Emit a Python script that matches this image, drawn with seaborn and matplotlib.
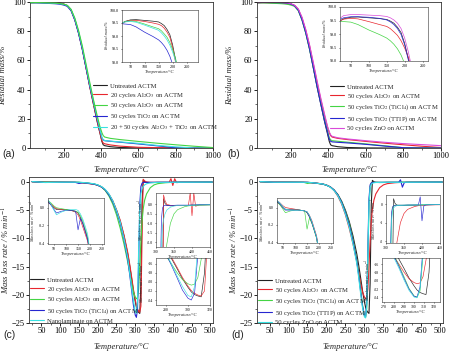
import numpy as np
import pandas as pd
import matplotlib
matplotlib.use('Agg')
import matplotlib.pyplot as plt
import seaborn as sns
from matplotlib.ticker import MultipleLocator, FormatStrFormatter, FixedLocator

sns.set_theme(style='ticks')
plt.rcParams['font.family'] = ['Liberation Serif', 'DejaVu Serif']
plt.rcParams['mathtext.fontset'] = 'stix'

# ---------------- TGA data (residual mass, %) ----------------
T_tga = [22, 30, 50, 70, 100, 130, 150, 160, 170, 180, 190, 200, 210, 220, 240, 260, 280, 300,
         320, 340, 360, 380, 395, 405, 412, 420, 450, 500, 600, 700, 800, 900, 1000]
tga_untreated = [99.50, 99.56, 99.62, 99.63, 99.60, 99.57, 99.54, 99.48, 99.40, 99.25, 99.05, 98.65, 98.10, 97.40,
                 94.5, 88.0, 79.0, 68.0, 55.0, 42.0, 30.0, 18.0, 10.0, 4.5, 2.2, 1.6, 0.9, 0.35, 0.05, 0.0, 0.0, 0.0, 0.0]
tga_al20 = [99.48, 99.54, 99.60, 99.60, 99.56, 99.50, 99.45, 99.40, 99.30, 99.15, 98.95, 98.55, 98.00, 97.30,
            94.4, 87.9, 78.9, 67.9, 55.0, 42.0, 30.0, 18.2, 10.3, 5.0, 3.4, 2.9, 2.1, 1.3, 0.5, 0.2, 0.1, 0.05, 0.0]
tga_al50 = [99.50, 99.55, 99.58, 99.56, 99.46, 99.35, 99.28, 99.20, 99.08, 98.95, 98.75, 98.48, 98.15, 97.70,
            95.0, 89.0, 80.5, 70.0, 57.5, 45.0, 33.0, 22.0, 14.5, 10.5, 8.5, 7.5, 6.6, 5.8, 4.5, 3.3, 2.2, 1.2, 0.3]
tga_ticl4 = [99.47, 99.46, 99.44, 99.35, 99.15, 98.98, 98.85, 98.75, 98.62, 98.45, 98.22, 97.90, 97.50, 97.00,
             94.0, 87.5, 78.5, 67.5, 55.0, 42.5, 31.0, 19.5, 12.0, 7.0, 5.6, 5.0, 4.6, 4.0, 2.8, 1.5, 0.2, 0.0, 0.0]
tga_nano = [99.50, 99.54, 99.56, 99.53, 99.42, 99.30, 99.22, 99.12, 99.00, 98.85, 98.65, 98.38, 98.05, 97.60,
            94.8, 88.5, 79.8, 69.0, 56.5, 43.5, 32.0, 20.5, 12.5, 7.0, 5.6, 5.1, 4.7, 4.2, 3.2, 1.8, 0.8, 0.0, 0.0]
tga_ttip = [99.55, 99.60, 99.64, 99.64, 99.62, 99.58, 99.52, 99.45, 99.35, 99.20, 98.98, 98.60, 98.05, 97.35,
            94.4, 87.8, 78.8, 67.8, 55.0, 42.0, 30.0, 18.5, 11.0, 6.0, 4.6, 4.2, 3.9, 3.5, 2.5, 1.3, 0.2, 0.0, 0.0]
tga_zno = [99.60, 99.68, 99.72, 99.72, 99.70, 99.68, 99.65, 99.60, 99.52, 99.40, 99.20, 98.85, 98.35, 97.75,
           95.2, 89.5, 81.0, 70.5, 58.5, 46.0, 34.0, 23.0, 15.0, 11.0, 9.0, 8.0, 7.0, 6.2, 5.0, 3.9, 3.0, 2.3, 1.6]

# ---------------- DTG data (mass loss rate, %/min) ----------------
T_dtg = [25, 35, 50, 60, 80, 100, 120, 140, 150, 160, 170, 180, 190, 200, 210, 220, 230, 240, 250, 260,
         270, 280, 285, 290, 295, 300, 303, 306, 309, 312, 315, 318, 321, 325, 330, 340, 350, 360, 380, 390,
         395, 400, 405, 410, 420, 450, 480, 505]
dtg_untreated = [0.06, 0.04, 0.00, -0.02, -0.02, -0.02, -0.03, -0.04, -0.06, -0.11, -0.18, -0.26, -0.35, -0.55,
                 -0.85, -1.4, -2.2, -3.4, -5.0, -7.0, -9.6, -12.8, -14.8, -17.0, -19.3, -21.2, -22.2, -22.8, -23.1,
                 -23.3, -18.0, -4.0, 0.3, 0.05, -0.05, -0.08, -0.07, -0.06, -0.05, -0.05, -0.04, -0.04, -0.04,
                 -0.03, -0.03, -0.02, -0.01, 0.0]
dtg_al20 = [0.07, 0.05, 0.01, -0.01, -0.02, -0.03, -0.03, -0.05, -0.08, -0.14, -0.22, -0.30, -0.38, -0.57,
            -0.87, -1.4, -2.2, -3.3, -4.9, -6.8, -9.4, -12.5, -14.5, -16.7, -19.0, -20.9, -21.9, -22.5, -22.9,
            -23.1, -22.0, -10.0, 0.5, 0.2, 0.0, -0.05, -0.06, -0.05, -0.05, -0.05, 0.6, -0.6, 0.6, -0.1, -0.03,
            -0.02, -0.01, 0.0]
dtg_al50 = [0.08, 0.06, 0.02, 0.00, -0.01, -0.02, -0.03, -0.04, -0.05, -0.09, -0.15, -0.24, -0.33, -0.52,
            -0.85, -1.5, -2.5, -3.9, -5.8, -8.2, -11.0, -14.2, -16.0, -17.9, -19.5, -20.4, -20.7, -20.5, -19.0,
            -15.0, -10.5, -7.0, -4.8, -3.2, -2.1, -1.0, -0.5, -0.28, -0.12, -0.08, -0.07, -0.06, -0.06, -0.05,
            -0.04, -0.03, -0.02, -0.01]
dtg_ticl4 = [0.07, 0.04, -0.02, -0.06, -0.04, -0.03, -0.03, -0.04, -0.25, -0.12, -0.18, -0.27, -0.36, -0.55,
             -0.87, -1.4, -2.3, -3.5, -5.2, -7.3, -10.2, -13.8, -16.3, -19.0, -21.8, -23.6, -24.0, -22.5, -14.0,
             -4.0, -0.8, -0.2, -0.08, -0.05, -0.05, -0.05, -0.05, -0.04, -0.04, -0.04, -0.04, -0.03, -0.03,
             -0.03, -0.02, -0.02, -0.01, 0.0]
dtg_nano = [0.09, 0.05, -0.03, -0.08, -0.05, -0.03, -0.02, -0.02, -0.03, -0.07, -0.13, -0.21, -0.30, -0.50,
            -0.80, -1.3, -2.1, -3.3, -5.0, -7.1, -10.0, -13.5, -16.0, -18.6, -21.0, -23.0, -23.3, -21.0, -12.0,
            -5.0, -2.0, -1.2, -0.8, -0.5, -0.3, -0.15, -0.09, -0.06, -0.05, -0.05, -0.05, -0.04, -0.04, -0.03,
            -0.03, -0.02, -0.01, 0.0]
dtg_ttip = [0.07, 0.05, 0.00, -0.03, -0.03, -0.03, -0.03, -0.04, -0.05, -0.10, -0.17, -0.26, -0.35, -0.55,
            -0.87, -1.4, -2.3, -3.6, -5.4, -7.6, -10.5, -14.1, -16.6, -19.4, -22.0, -23.7, -23.9, -21.5, -12.0,
            -3.0, -0.5, -0.15, -0.08, -0.06, -0.05, -0.05, -0.05, -0.04, -0.04, -0.04, 0.4, -0.9, -0.1, -0.04,
            -0.03, -0.02, -0.01, 0.0]
dtg_zno = [0.08, 0.06, 0.01, -0.02, -0.03, -0.03, -0.03, -0.04, -0.05, -0.09, -0.16, -0.25, -0.34, -0.54,
           -0.90, -1.5, -2.4, -3.8, -5.7, -8.0, -11.0, -14.5, -17.0, -19.8, -22.3, -23.9, -24.1, -22.0, -13.0,
           -4.0, -1.0, -0.4, -0.2, -0.12, -0.08, -0.06, -0.05, -0.05, -0.04, -0.04, -0.04, -0.04, -0.03, -0.03,
           -0.03, -0.02, -0.01, 0.0]

# ---------------- tick values ----------------
tga_yticks = [0, 20, 40, 60, 80, 100]
tga_xticks = [200, 400, 600, 800, 1000]
dtg_yticks = [-25, -20, -15, -10, -5, 0]
dtg_xticks = [50, 100, 150, 200, 250, 300, 350, 400, 450, 500]

# ---------------- labels ----------------
labels_a = ['Untreated ACTM', '20 cycles Al$_2$O$_3$ on ACTM', '50 cycles Al$_2$O$_3$ on ACTM',
            '50 cycles TiO$_2$ on ACTM', '20 + 50 cycles Al$_2$O$_3$ + TiO$_2$ on ACTM']
labels_b = ['Untreated ACTM', '50 cycles Al$_2$O$_3$ on ACTM', '50 cycles TiO$_2$ (TiCl$_4$) on ACTM',
            '50 cycles TiO$_2$ (TTIP) on ACTM', '50 cycles ZnO on ACTM']
labels_c = ['Untreated ACTM', '20 cycles Al$_2$O$_3$ on ACTM', '50 cycles Al$_2$O$_3$ on ACTM',
            '50 cycles TiO$_2$ (TiCl$_4$) on ACTM', 'Nanolaminate on ACTM']
labels_d = labels_b

BLACK, RED, GREEN, BLUE, CYAN, MAG = '#222222', '#e8262e', '#44d444', '#2626d0', '#38e2e2', '#d94ad9'
colors_a = [BLACK, RED, GREEN, BLUE, CYAN]
colors_b = [BLACK, RED, GREEN, BLUE, MAG]
colors_c = [BLACK, RED, GREEN, BLUE, CYAN]
colors_d = [BLACK, RED, GREEN, BLUE, CYAN]

series_a = [tga_untreated, tga_al20, tga_al50, tga_ticl4, tga_nano]
series_b = [tga_untreated, tga_al50, tga_ticl4, tga_ttip, tga_zno]
series_c = [dtg_untreated, dtg_al20, dtg_al50, dtg_ticl4, dtg_nano]
series_d = [dtg_untreated, dtg_al50, dtg_ticl4, dtg_ttip, dtg_zno]

W, H = 449, 353
fig = plt.figure(figsize=(W / 100, H / 100), dpi=100)


def rect(x0, y0, x1, y1):
    return [x0 / W, 1 - y1 / H, (x1 - x0) / W, (y1 - y0) / H]


def style(ax, fs, lw=0.6, tl=2.0):
    for s in ax.spines.values():
        s.set_linewidth(lw)
        s.set_color('#333333')
    ax.tick_params(which='major', direction='out', length=tl, width=lw, pad=1.2,
                   labelsize=fs, colors='#000000', labelleft=True)
    ax.tick_params(which='minor', direction='out', length=tl * 0.6, width=lw * 0.8)
    ax.grid(False)


def draw(ax, T, series, colors, lw, zorders=None):
    handles = []
    for i, (y, c) in enumerate(zip(series, colors)):
        df = pd.DataFrame({'T': T, 'v': y})
        sns.lineplot(data=df, x='T', y='v', ax=ax, color=c, lw=lw, legend=False,
                     estimator=None, sort=False, zorder=(zorders[i] if zorders else 2 + i * 0.1))
        handles.append(ax.get_lines()[-1])
    ax.set_xlabel('')
    ax.set_ylabel('')
    return handles


def legend(ax, handles, labels, x, y):
    ax.legend(handles, labels, loc='upper left', bbox_to_anchor=(x / W, 1 - y / H),
              bbox_transform=fig.transFigure, frameon=False, fontsize=4.8,
              handlelength=2.1, handletextpad=0.45, labelspacing=0.28, borderpad=0, borderaxespad=0)


def main_labels(ax, ylab, ylx, xly):
    ax.set_xlabel('Temperature/°C', fontsize=6.2, style='italic')
    ax.set_ylabel(ylab, fontsize=6.2, style='italic')
    ax.xaxis.set_label_coords(0.5, xly)
    ax.xaxis.label.set_verticalalignment('center')
    ax.yaxis.set_label_coords(ylx, 0.5)
    ax.yaxis.label.set_verticalalignment('center')


def set_main_ticks(ax, xt, yt):
    ax.set_xticks(xt)
    ax.set_xticklabels([str(v) for v in xt])
    ax.set_yticks(yt)
    ax.set_yticklabels([str(v).replace('-', '\u2212') for v in yt])


def inset_labels(ax, ylab):
    ax.set_xlabel('Temperature/°C', fontsize=3.3, style='italic', labelpad=0.8)
    ax.set_ylabel(ylab, fontsize=3.0, style='italic', labelpad=0.8)


TGA_Y = 'Residual mass/%'
DTG_Y = 'Mass loss rate / % min$^{-1}$'

# ---------------- Panels (a), (b) ----------------
for (r, series, colors, labels, leg, irect, ixmax, letter, lpos, zord) in [
        (rect(30, 2, 213, 148), series_a, colors_a, labels_a, (93, 83), rect(122, 10, 198, 62), 290, '(a)',
         (9, 154), [2, 2.1, 2.6, 2.2, 2.3]),
        (rect(257, 2, 441, 148), series_b, colors_b, labels_b, (330, 84), rect(340, 7, 428, 61), 265, '(b)',
         (234, 154), None)]:
    ax = fig.add_axes(r)
    h = draw(ax, T_tga, series, colors, 0.8, zorders=zord)
    ax.set_xlim(20, 1000)
    ax.set_ylim(0, 100)
    set_main_ticks(ax, tga_xticks, tga_yticks)
    ax.xaxis.set_minor_locator(MultipleLocator(100))
    ax.yaxis.set_minor_locator(MultipleLocator(10))
    style(ax, 6.0)
    main_labels(ax, TGA_Y, -0.145, -0.15)
    legend(ax, h, labels, *leg)
    fig.text(lpos[0] / W, 1 - lpos[1] / H, letter, fontsize=7.5, family='Liberation Sans',
             ha='center', va='center')
    ia = fig.add_axes(irect)
    ia.set_facecolor('white')
    draw(ia, T_tga, series, colors, 0.5)
    ia.set_xlim(20, ixmax)
    ia.set_ylim(98.0, 100.0)
    ia.xaxis.set_major_locator(FixedLocator([50, 100, 150, 200, 250]))
    ia.yaxis.set_major_locator(MultipleLocator(0.5))
    ia.yaxis.set_major_formatter(FormatStrFormatter('%.1f'))
    style(ia, 3.0, lw=0.4, tl=1.0)
    inset_labels(ia, TGA_Y)

# ---------------- Panels (c), (d) ----------------
for (r, series, colors, labels, leg, letter, lpos, ins) in [
        (rect(29, 177, 213, 323), series_c, colors_c, labels_c, (30, 277), '(c)', (9, 335),
         [(rect(48, 198, 104, 244), (25, 258), (-0.41, 0.11), [50, 100, 150, 200, 250], [0.0, -0.2, -0.4], '%.1f'),
          (rect(156, 193, 210, 247), (300, 450), (-2.25, 0.6), [300, 350, 400, 450],
           [0.0, -0.5, -1.0, -1.5, -2.0], '%.1f'),
          (rect(156, 258, 210, 305), (271, 320), (-25.1, -14.7), [280, 300, 320], [-16, -18, -20, -22, -24], '%d')]),
        (rect(257, 177, 443, 323), series_d, colors_d, labels_d, (258, 278), '(d)', (238, 335),
         [(rect(277, 198, 333, 243), (25, 258), (-0.41, 0.11), [50, 100, 150, 200, 250], [0.0, -0.2, -0.4], '%.1f'),
          (rect(386, 195, 440, 243), (300, 450), (-2.1, 0.5), [300, 350, 400, 450], [0, -1, -2], '%d'),
          (rect(382, 258, 440, 302), (268, 326), (-25.1, -14.5), [270, 280, 290, 300, 310, 320],
           [-16, -18, -20, -22, -24], '%d')])]:
    ax = fig.add_axes(r)
    h = draw(ax, T_dtg, series, colors, 0.8)
    ax.set_xlim(17, 507)
    ax.set_ylim(-25, 0.9)
    set_main_ticks(ax, dtg_xticks, dtg_yticks)
    ax.xaxis.set_minor_locator(MultipleLocator(25))
    ax.yaxis.set_minor_locator(MultipleLocator(2.5))
    style(ax, 6.0)
    main_labels(ax, DTG_Y, -0.125, -0.165)
    legend(ax, h, labels, *leg)
    fig.text(lpos[0] / W, 1 - lpos[1] / H, letter, fontsize=7.5, family='Liberation Sans',
             ha='center', va='center')
    for (ir, xl, yl, xt, yt, fmt) in ins:
        ia = fig.add_axes(ir)
        ia.set_facecolor('white')
        draw(ia, T_dtg, series, colors, 0.45)
        ia.set_xlim(*xl)
        ia.set_ylim(*yl)
        ia.xaxis.set_major_locator(FixedLocator(xt))
        ia.yaxis.set_major_locator(FixedLocator(yt))
        ia.yaxis.set_major_formatter(FormatStrFormatter(fmt))
        style(ia, 2.8, lw=0.4, tl=1.0)
        inset_labels(ia, DTG_Y)

fig.savefig('out.png', dpi=100)
